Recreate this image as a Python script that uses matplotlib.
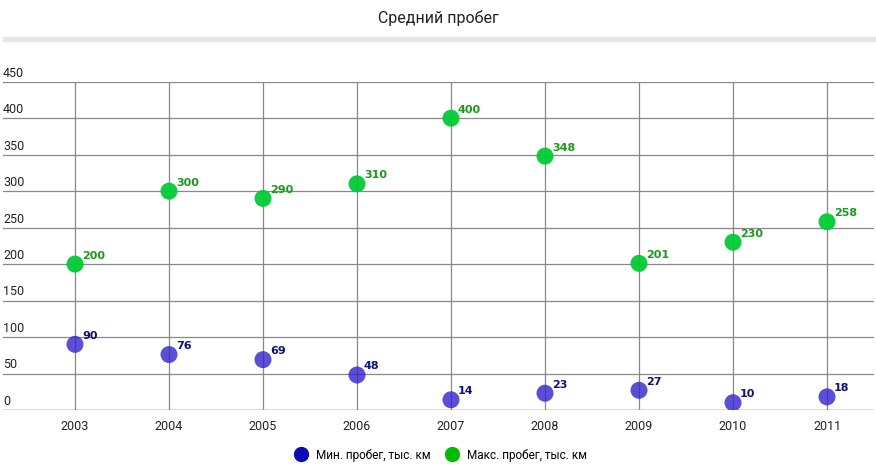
import matplotlib.pyplot as plt
from matplotlib.lines import Line2D

# Данные
years = ["2003", "2004", "2005", "2006", "2007", "2008", "2009", "2010", "2011"]
min_run = [90, 76, 69, 48, 14, 23, 27, 10, 18]
max_run = [200, 300, 290, 310, 400, 348, 201, 230, 258]
y_ticks = [0, 50, 100, 150, 200, 250, 300, 350, 400, 450]

plt.rcParams["font.family"] = ["Roboto", "DejaVu Sans"]

W, H = 876, 476
fig = plt.figure(figsize=(W / 100, H / 100), dpi=100)
ax = fig.add_axes([3 / W, 1 - 410 / H, 871 / W, (410 - 81.7) / H])

x = range(len(years))
ax.scatter(x, min_run, s=150, color="#3322cc", alpha=0.8, edgecolors="none", zorder=3)
ax.scatter(x, max_run, s=150, color="#00cc33", alpha=0.95, edgecolors="none", zorder=3)

for i, v in enumerate(min_run):
    ax.annotate(str(v), (i, v), xytext=(5, 4), textcoords="offset points",
                fontsize=8, fontweight="bold", color="#10107a",
                family=["DejaVu Sans"])
for i, v in enumerate(max_run):
    ax.annotate(str(v), (i, v), xytext=(5, 4), textcoords="offset points",
                fontsize=8, fontweight="bold", color="#1a9a1a",
                family=["DejaVu Sans"])

ax.set_xlim(-0.766, 8.5)
ax.set_ylim(0, 450)
ax.set_xticks(list(x))
ax.set_xticklabels(years, fontsize=9, color="#222222")
ax.set_yticks(y_ticks)
ax.set_yticklabels([])
ax.tick_params(length=0, pad=7)
ax.grid(True, color="#888888", linewidth=0.9)
ax.set_axisbelow(True)
for s in ax.spines.values():
    s.set_visible(False)
ax.axhline(0, color="#888888", linewidth=1, zorder=1)

# подписи оси Y над линиями сетки
for t in y_ticks:
    ax.annotate(str(t), (0, t), xycoords=("axes fraction", "data"), xytext=(0, 1.5),
                textcoords="offset points", fontsize=9, color="#222222", va="bottom")

fig.text(0.5, 1 - 18 / H, "Средний пробег", ha="center", va="center", fontsize=11.5, color="#222222")
fig.patches.append(plt.Rectangle((3 / W, 1 - 41 / H), 873 / W, 4 / H, transform=fig.transFigure,
                                 color="#e6e6e6", figure=fig))

handles = [
    Line2D([], [], marker="o", linestyle="", markersize=10, color="#0a0ab8", label="Мин. пробег, тыс. км"),
    Line2D([], [], marker="o", linestyle="", markersize=10, color="#00bb00", label="Макс. пробег, тыс. км"),
]
fig.legend(handles=handles, loc="center", bbox_to_anchor=(0.5, 1 - 455 / H), ncol=2, frameon=False,
           fontsize=8.5, handletextpad=0.3, columnspacing=0.8)

fig.savefig("out.png", dpi=100)
